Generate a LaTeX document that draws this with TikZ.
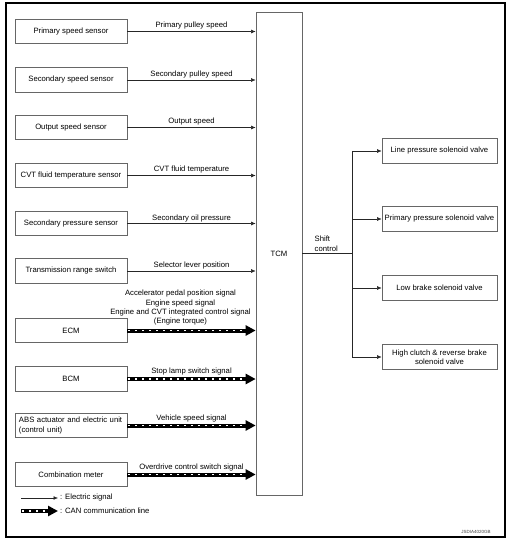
\documentclass[tikz,border=0pt]{standalone}
\usepackage{fontspec}
\setmainfont{Liberation Sans}
\usetikzlibrary{arrows.meta}
\begin{document}
\begin{tikzpicture}[x=1bp,y=-1bp,
  font=\fontsize{7.7bp}{9.3bp}\selectfont,
  box/.style={draw=black!60, line width=0.7bp, minimum width=112bp, minimum height=24.5bp, inner sep=1bp, align=center},
  rbox/.style={box, minimum width=115bp},
  sig/.style={draw=black!85, line width=0.5bp, -{Latex[length=4.5bp,width=3.8bp]}},
  canline/.style={line width=4bp, -{Triangle[length=10bp,width=10bp]}},
  candash/.style={white, line width=1.6bp, dash pattern=on 2bp off 5bp, shorten >=11bp, shorten <=1bp},
  lbl/.style={anchor=base, inner sep=0pt, yshift=3.5bp},
  canlbl/.style={anchor=base, inner sep=0pt, yshift=5.5bp}]
\useasboundingbox (0,0) rectangle (511,543);
\draw[line width=1.2bp] (6,3) rectangle (505,537);

% TCM
\node[draw=black!60, line width=0.7bp, minimum width=46bp, minimum height=483bp, inner sep=0pt] (tcm) at (279,253.5) {TCM};

% left boxes
\node[box] (ps) at (71,31.5) {Primary speed sensor};
\node[box] (ss) at (71,80) {Secondary speed sensor};
\node[box] (os) at (71,127.5) {Output speed sensor};
\node[box] (ft) at (71,175.5) {CVT fluid temperature sensor};
\node[box] (sp) at (71,223.5) {Secondary pressure sensor};
\node[box] (tr) at (71,271) {Transmission range switch};
\node[box] (ecm) at (71,330.5) {ECM};
\node[box] (bcm) at (71,379) {BCM};
\node[box, align=left, text width=104bp] (abs) at (71,425.5) {ABS actuator and electric unit\\(control unit)};
\node[box] (cm) at (71,474.5) {Combination meter};

% electric signals
\draw[sig] (ps.east) -- (ps.east -| tcm.west) node[midway, lbl] {Primary pulley speed};
\draw[sig] (ss.east) -- (ss.east -| tcm.west) node[midway, lbl] {Secondary pulley speed};
\draw[sig] (os.east) -- (os.east -| tcm.west) node[midway, lbl] {Output speed};
\draw[sig] (ft.east) -- (ft.east -| tcm.west) node[midway, lbl] {CVT fluid temperature};
\draw[sig] (sp.east) -- (sp.east -| tcm.west) node[midway, lbl] {Secondary oil pressure};
\draw[sig] (tr.east) -- (tr.east -| tcm.west) node[midway, lbl] {Selector lever position};

% CAN lines
\foreach \n in {ecm,bcm,abs,cm}{
  \draw[canline] (\n.east) -- (\n.east -| tcm.west);
  \draw[candash] (\n.east) -- (\n.east -| tcm.west);
}
\path (ecm.east) -- (ecm.east -| tcm.west) node[midway, anchor=south, inner sep=0pt, yshift=5bp, xshift=-11bp, align=center]
  {Accelerator pedal position signal\\Engine speed signal\\Engine and CVT integrated control signal\\(Engine torque)};
\path (bcm.east) -- (bcm.east -| tcm.west) node[midway, canlbl] {Stop lamp switch signal};
\path (abs.east) -- (abs.east -| tcm.west) node[midway, canlbl] {Vehicle speed signal};
\path (cm.east) -- (cm.east -| tcm.west) node[midway, canlbl] {Overdrive control switch signal};

% right side
\node[rbox] (lp) at (439.5,151) {Line pressure solenoid valve};
\node[rbox] (pp) at (439.5,219) {Primary pressure solenoid valve};
\node[rbox] (lb) at (439.5,288) {Low brake solenoid valve};
\node[rbox] (hc) at (439.5,357) {High clutch \& reverse brake\\solenoid valve};
\coordinate (bus) at (352,253);
\draw[draw=black!85, line width=0.5bp] (tcm.east |- bus) -- (bus);
\draw[draw=black!85, line width=0.5bp] (bus |- lp) -- (bus |- hc);
\foreach \n in {lp,pp,lb,hc}{
  \draw[sig] (bus |- \n) -- (\n.west);
}
\node[anchor=south west, inner sep=0pt, align=left] (shc) at (314.5,251.5) {Shift\\control};

% legend
\coordinate (l1a) at (21,498);
\coordinate (l1b) at (58,498);
\coordinate (l2a) at (21,511);
\coordinate (l2b) at (58,511);
\draw[sig] (l1a) -- (l1b);
\draw[canline] (l2a) -- (l2b);
\draw[candash] (l2a) -- (l2b);
\node[anchor=west, inner sep=0pt] (le1) at (60,498) {: Electric signal};
\node[anchor=west, inner sep=0pt] (le2) at (60,511) {: CAN communication line};

\node[inner sep=0pt, font=\fontsize{4.5bp}{5bp}\selectfont, text=black!75] (code) at (476,532) {JSDIA4020GB};
\end{tikzpicture}
\end{document}
